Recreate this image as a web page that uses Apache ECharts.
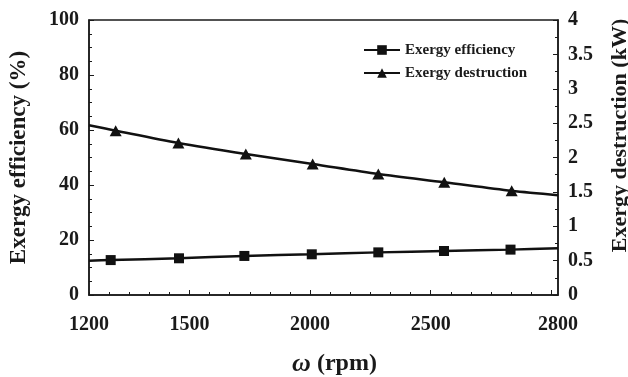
<!DOCTYPE html>
<html>
<head>
<meta charset="utf-8">
<script src="https://cdn.jsdelivr.net/npm/echarts@6/dist/echarts.min.js"></script>
<style>
  html, body { margin: 0; padding: 0; background: #fff; }
  #chart { width: 628px; height: 377px; }
</style>
</head>
<body>
<div id="chart"></div>
<script>
// Rotational speed (rpm) of each measured point
const rpmEfficiency  = [1274, 1507, 1730, 1960, 2187, 2411, 2638];
const rpmDestruction = [1291, 1505, 1735, 1963, 2187, 2412, 2642];

// Exergy efficiency (%) and exergy destruction (kW)
const exergyEfficiency  = [12.7, 13.35, 14.2, 14.8, 15.5, 16.0, 16.5];
const exergyDestruction = [2.39, 2.21, 2.05, 1.905, 1.76, 1.64, 1.515];

// Trend line values at the two ends of the speed range
const trendRange       = [1200, 2800];
const efficiencyEnds   = [12.45, 17.0];
const destructionEnds  = [2.47, 1.45];

// Speed tick labels
const speedLabels = ['1200', '1500', '2000', '2500', '2800'];

const FONT = '"Liberation Serif", "Times New Roman", serif';
const INK = '#1a1a1a';

// minor ticks along the speed axis, every sixth one is a major tick
const minorStep = (trendRange[1] - trendRange[0]) * 3 / 70;
const minorTicks = [];
for (let k = 0; k * minorStep <= trendRange[1] - trendRange[0] + 1; k++) {
  minorTicks.push(trendRange[0] + k * minorStep);
}
const majorTicks = minorTicks.filter((_, k) => k % 6 === 5);
const labelSpots = [trendRange[0], majorTicks[0], majorTicks[1], majorTicks[2], trendRange[1]];

function speedLabelAt(v) {
  let best = 0;
  labelSpots.forEach((s, i) => {
    if (Math.abs(s - v) < Math.abs(labelSpots[best] - v)) best = i;
  });
  return speedLabels[best];
}

function withEnds(xs, ys, ends) {
  const pts = xs.map((x, i) => [x, ys[i]]);
  return [
    { value: [trendRange[0], ends[0]], symbol: 'none' },
    ...pts,
    { value: [trendRange[1], ends[1]], symbol: 'none' }
  ];
}

const chart = echarts.init(document.getElementById('chart'), null, { renderer: 'canvas' });

chart.setOption({
  animation: false,
  backgroundColor: '#fff',
  grid: {
    left: 89, right: 70, top: 20, bottom: 82,
    outerBoundsMode: 'none',
    containLabel: false,
    show: true, borderColor: INK, borderWidth: 1.5, backgroundColor: 'transparent'
  },
  legend: {
    orient: 'vertical',
    left: 358, top: 37,
    itemWidth: 36, itemHeight: 12, itemGap: 7,
    textStyle: { fontFamily: FONT, fontWeight: 'bold', fontSize: 15, color: INK, lineHeight: 16 },
    data: ['Exergy efficiency', 'Exergy destruction']
  },
  xAxis: [
    {
      type: 'value',
      min: trendRange[0], max: trendRange[1],
      name: '{w|ω} (rpm)',
      nameLocation: 'middle',
      nameGap: 56,
      nameTextStyle: {
        fontFamily: FONT, fontWeight: 'bold', fontSize: 24, color: INK,
        padding: [0, 0, 0, 22],
        rich: { w: { fontFamily: FONT, fontWeight: 'bold', fontStyle: 'italic', fontSize: 26, color: INK } }
      },
      axisLine: { show: true, lineStyle: { color: INK, width: 1.5 } },
      axisTick: {
        show: true, inside: true, length: 5,
        customValues: majorTicks,
        lineStyle: { color: INK, width: 1 }
      },
      axisLabel: {
        show: true, margin: 20,
        customValues: labelSpots,
        hideOverlap: false,
        showMinLabel: true, showMaxLabel: true,
        formatter: (v) => speedLabelAt(v),
        fontFamily: FONT, fontWeight: 'bold', fontSize: 20, color: INK
      },
      splitLine: { show: false }
    },
    {
      type: 'value',
      position: 'bottom',
      min: trendRange[0], max: trendRange[1],
      axisLine: { show: false },
      axisTick: {
        show: true, inside: true, length: 3,
        customValues: minorTicks,
        lineStyle: { color: INK, width: 1 }
      },
      axisLabel: { show: false },
      splitLine: { show: false }
    }
  ],
  yAxis: [
    {
      type: 'value',
      min: 0, max: 100, interval: 20,
      name: 'Exergy efficiency (%)',
      nameLocation: 'middle',
      nameGap: 58,
      nameTextStyle: { fontFamily: FONT, fontWeight: 'bold', fontSize: 23, color: INK },
      axisLine: { show: true, lineStyle: { color: INK, width: 1.5 } },
      axisTick: { show: true, inside: true, length: 5, lineStyle: { color: INK, width: 1 } },
      minorTick: { show: true, splitNumber: 4, length: 3, lineStyle: { color: INK, width: 1 } },
      axisLabel: { margin: 10, fontFamily: FONT, fontWeight: 'bold', fontSize: 20, color: INK },
      splitLine: { show: false }
    },
    {
      type: 'value',
      min: 0, max: 4, interval: 0.5,
      position: 'right',
      name: 'Exergy destruction (kW)',
      nameLocation: 'middle',
      nameGap: 51,
      nameRotate: 90,
      nameTextStyle: {
        fontFamily: FONT, fontWeight: 'bold', fontSize: 22, color: INK,
        padding: [0, 0, 0, 44]
      },
      axisLine: { show: true, lineStyle: { color: INK, width: 1.5 } },
      axisTick: { show: true, inside: true, length: 5, lineStyle: { color: INK, width: 1 } },
      minorTick: { show: true, splitNumber: 2, length: 3, lineStyle: { color: INK, width: 1 } },
      axisLabel: { margin: 10, fontFamily: FONT, fontWeight: 'bold', fontSize: 20, color: INK },
      splitLine: { show: false }
    }
  ],
  series: [
    {
      name: 'Exergy efficiency',
      type: 'line',
      xAxisIndex: 0, yAxisIndex: 0,
      smooth: 0.3,
      symbol: 'rect', symbolSize: 10,
      showAllSymbol: true,
      itemStyle: { color: '#111' },
      lineStyle: { color: '#111', width: 2.5 },
      data: withEnds(rpmEfficiency, exergyEfficiency, efficiencyEnds)
    },
    {
      name: 'Exergy destruction',
      type: 'line',
      xAxisIndex: 0, yAxisIndex: 1,
      smooth: 0.3,
      symbol: 'triangle', symbolSize: [12, 11],
      showAllSymbol: true,
      itemStyle: { color: '#111' },
      lineStyle: { color: '#111', width: 2.5 },
      data: withEnds(rpmDestruction, exergyDestruction, destructionEnds)
    }
  ]
});
</script>
</body>
</html>
